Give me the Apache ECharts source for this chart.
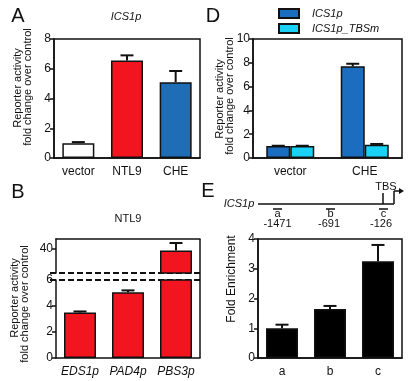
<!DOCTYPE html>
<html><head><meta charset="utf-8">
<script src="https://cdn.jsdelivr.net/npm/echarts@6/dist/echarts.min.js"></script>
<style>html,body{margin:0;padding:0;background:#fff}#c{width:419px;height:381px}</style>
</head><body><div id="c"></div>
<script>
// ---- data ----
const catsA = ['vector', 'NTL9', 'CHE'];
const valsA = [1.0, 6.55, 5.1];
const errA  = [0.07, 0.35, 0.75];

const catsD = ['vector', 'CHE'];
const seriesD = ['ICS1p', 'ICS1p_TBSm'];
const valsD1 = [1.0, 7.7];
const errD1  = [0.03, 0.22];
const valsD2 = [1.0, 1.12];
const errD2  = [0.03, 0.06];

const catsB = ['EDS1p', 'PAD4p', 'PBS3p'];
const valsB = [3.5, 5.05, 39.2];
const errB  = [0.08, 0.15, 3.8];
const ticksBLow = [0, 2, 4, 6];
const ticksBHigh = [40];

const catsE = ['a', 'b', 'c'];
const valsE = [1.0, 1.65, 3.25];
const errE  = [0.12, 0.1, 0.55];
const sitesE = ['a', 'b', 'c'];
const sitePosE = ['-1471', '-691', '-126'];

// ---- styles ----
const colorsA = ['#ffffff', '#f2141e', '#1f6db5'];
const colorsD = ['#1a6dbf', '#1ad2f6'];
const colorB = '#f2141e';
const colorE = '#000000';
const FONT = '"Liberation Sans", Arial, Helvetica, sans-serif';
const AX = '#111';

const chart = echarts.init(document.getElementById('c'));

function errSeries(xi, yi, vals, errs, offset) {
  return {
    type: 'custom', xAxisIndex: xi, yAxisIndex: yi, clip: true, z: 5,
    data: vals.map((v, i) => [i, v, v + errs[i]]),
    renderItem: (params, api) => {
      const base = api.coord([api.value(0), api.value(1)]);
      const top = api.coord([api.value(0), api.value(2)]);
      const x = base[0] + offset;
      return { type: 'group', children: [
        { type: 'line', shape: { x1: x, y1: base[1], x2: x, y2: top[1] }, style: { stroke: AX, lineWidth: 2 } },
        { type: 'line', shape: { x1: x - 6.5, y1: top[1], x2: x + 6.5, y2: top[1] }, style: { stroke: AX, lineWidth: 2 } }
      ]};
    }
  };
}

function xCat(gi, data, opts) {
  return Object.assign({
    type: 'category', gridIndex: gi, data: data,
    axisLine: { show: true, lineStyle: { color: AX, width: 1.5 } },
    axisTick: { show: false },
    axisLabel: { color: '#111', fontSize: 12, fontFamily: FONT, margin: 8, interval: 0 }
  }, opts || {});
}
function yVal(gi, min, max, interval, opts) {
  return Object.assign({
    type: 'value', gridIndex: gi, min: min, max: max, interval: interval,
    splitLine: { show: false },
    axisLine: { show: true, lineStyle: { color: AX, width: 1.5 } },
    axisTick: { show: true, inside: false, length: 4, lineStyle: { color: AX, width: 1.5 } },
    axisLabel: { color: '#111', fontSize: 12, fontFamily: FONT, margin: 3 }
  }, opts || {});
}

const boxed = { show: true, borderColor: AX, borderWidth: 1.5, backgroundColor: 'transparent' };

function txt(x, y, text, size, extra) {
  return Object.assign({ type: 'text', x: x, y: y, style: {
    text: text, font: (extra && extra.italic ? 'italic ' : '') + size + 'px ' + FONT,
    fill: '#111', align: 'center', verticalAlign: 'middle', textAlign: 'center', textVerticalAlign: 'middle'
  }}, extra && extra.rot ? { rotation: Math.PI / 2 } : {});
}
function ln(x1, y1, x2, y2, w, dash) {
  return { type: 'line', shape: { x1, y1, x2, y2 }, style: { stroke: AX, lineWidth: w || 1.5, lineDash: dash || null } };
}

const option = {
  animation: false,
  backgroundColor: '#fff',
  textStyle: { fontFamily: FONT },
  grid: [
    Object.assign({ left: 54, top: 39, width: 146, height: 119 }, boxed),   // A
    Object.assign({ left: 253, top: 39, width: 149, height: 119 }, boxed),  // D
    { left: 56, top: 280, width: 144, height: 78 },                          // B low
    { left: 56, top: 239, width: 144, height: 34 },                          // B high
    Object.assign({ left: 258, top: 239, width: 144, height: 119 }, boxed)  // E
  ],
  xAxis: [
    xCat(0, catsA),
    xCat(1, catsD),
    xCat(2, catsB, { axisLabel: { color: '#111', fontSize: 12, fontFamily: FONT, fontStyle: 'italic', margin: 8, interval: 0 } }),
    xCat(3, catsB, { position: 'top', axisLabel: { show: false } }),
    xCat(4, catsE)
  ],
  yAxis: [
    yVal(0, 0, 8, 2),
    yVal(1, 0, 10, 2),
    yVal(2, 0, 6, 2, { axisLabel: { color: '#111', fontSize: 12, fontFamily: FONT, margin: 3, customValues: ticksBLow }, axisTick: { show: true, length: 4, lineStyle: { color: AX, width: 1.5 }, customValues: ticksBLow } }),
    yVal(3, 28, 45, null, { interval: undefined, axisLabel: { color: '#111', fontSize: 12, fontFamily: FONT, margin: 3, customValues: ticksBHigh }, axisTick: { show: true, length: 4, lineStyle: { color: AX, width: 1.5 }, customValues: ticksBHigh } }),
    yVal(4, 0, 4, 1)
  ],
  legend: {
    orient: 'vertical', left: 278, top: 7, itemWidth: 20, itemHeight: 9, itemGap: 2,
    padding: 0, icon: 'rect', data: seriesD,
    textStyle: { fontSize: 11, fontStyle: 'italic', fontFamily: FONT, color: '#111', padding: [0, 0, 0, 8], lineHeight: 13 }
  },
  series: [
    { type: 'bar', xAxisIndex: 0, yAxisIndex: 0, barWidth: 32,
      data: valsA.map((v, i) => ({ value: v, itemStyle: { color: colorsA[i] } })),
      itemStyle: { borderColor: AX, borderWidth: 1.5 } },
    errSeries(0, 0, valsA, errA, 0),
    { type: 'bar', name: seriesD[0], xAxisIndex: 1, yAxisIndex: 1, barWidth: 24, barGap: '0%', data: valsD1,
      itemStyle: { color: colorsD[0], borderColor: AX, borderWidth: 1.5 } },
    { type: 'bar', name: seriesD[1], xAxisIndex: 1, yAxisIndex: 1, barWidth: 24, barGap: '0%', data: valsD2,
      itemStyle: { color: colorsD[1], borderColor: AX, borderWidth: 1.5 } },
    errSeries(1, 1, valsD1, errD1, -12),
    errSeries(1, 1, valsD2, errD2, 12),
    { type: 'bar', xAxisIndex: 2, yAxisIndex: 2, barWidth: 32, data: valsB, clip: true,
      itemStyle: { color: colorB, borderColor: AX, borderWidth: 1.5 } },
    errSeries(2, 2, valsB, errB, 0),
    { type: 'bar', xAxisIndex: 3, yAxisIndex: 3, barWidth: 32, data: valsB, clip: true,
      itemStyle: { color: colorB, borderColor: AX, borderWidth: 1.5 } },
    errSeries(3, 3, valsB, errB, 0),
    { type: 'bar', xAxisIndex: 4, yAxisIndex: 4, barWidth: 32, data: valsE,
      itemStyle: { color: colorE, borderColor: AX, borderWidth: 1.5 } },
    errSeries(4, 4, valsE, errE, 0)
  ],
  graphic: [
    // panel letters
    txt(18, 16, 'A', 20), txt(213, 16, 'D', 20), txt(18, 192, 'B', 20), txt(208, 191, 'E', 20),
    // titles
    txt(126, 17, 'ICS1p', 11, { italic: true }),
    txt(128, 219, 'NTL9', 11),
    // y-axis names
    txt(18, 88, 'Reporter activity', 11, { rot: true }),
    txt(28, 87, 'fold change over control', 11, { rot: true }),
    txt(220, 99, 'Reporter activity', 11, { rot: true }),
    txt(230, 96, 'fold change over control', 11, { rot: true }),
    txt(15, 298, 'Reporter activity', 11, { rot: true }),
    txt(25, 304, 'fold change over control', 11, { rot: true }),
    txt(232, 279, 'Fold Enrichment', 12, { rot: true }),
    // B broken axis
    ln(200, 239, 200, 358, 1.5),
    ln(50, 273, 200, 273, 1.8, [6, 3]),
    ln(50, 280, 200, 280, 1.8, [6, 3]),
    // E schematic
    txt(239, 204, 'ICS1p', 11, { italic: true }),
    ln(258, 204, 394, 204, 1.5),
    ln(383, 193, 383, 204, 1.5),
    ln(394, 204, 394, 191, 1.5),
    ln(394, 191, 400, 191, 1.5),
    { type: 'polygon', shape: { points: [[399, 188], [404, 191], [399, 194]] }, style: { fill: AX } },
    txt(386, 187, 'TBS', 11),
    ln(273, 209, 282, 209, 1.5), ln(326, 209, 335, 209, 1.5), ln(379, 209, 388, 209, 1.5),
    txt(277.5, 214, sitesE[0], 11), txt(330.5, 214, sitesE[1], 11), txt(383.5, 214, sitesE[2], 11),
    txt(277.5, 224, sitePosE[0], 11), txt(329, 224, sitePosE[1], 11), txt(381, 224, sitePosE[2], 11)
  ]
};
chart.setOption(option);
</script></body></html>
